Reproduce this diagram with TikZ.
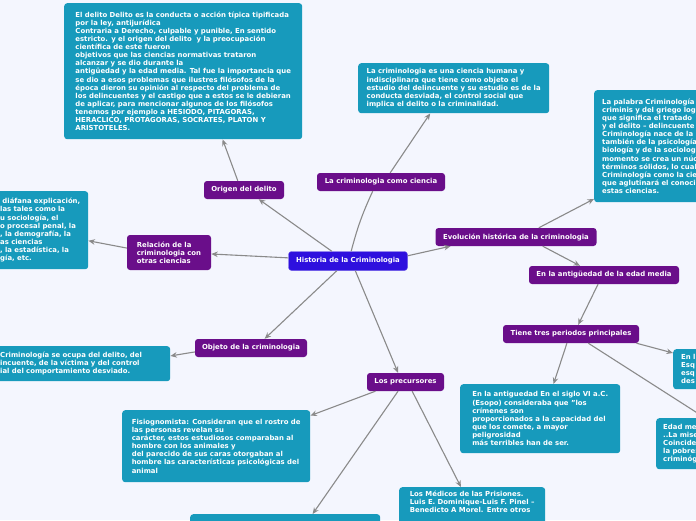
\documentclass[tikz,border=0pt]{standalone}
\usepackage{fontspec}
\setmainfont{DejaVu Sans}
\usetikzlibrary{arrows.meta}

\definecolor{bg}{RGB}{244,246,254}
\definecolor{tealbox}{RGB}{23,154,188}
\definecolor{purplebox}{RGB}{106,14,138}
\definecolor{rootbox}{RGB}{46,16,222}
\definecolor{connector}{RGB}{138,138,138}

\begin{document}
\begin{tikzpicture}[x=1pt,y=-1pt,
  every node/.style={font=\bfseries\fontsize{6.9}{8.1}\selectfont,text=white,rounded corners=3pt},
  topic/.style={fill=purplebox,minimum height=18pt,inner xsep=7pt,inner ysep=2pt},
  note/.style={fill=tealbox,align=left,inner xsep=8pt,inner ysep=4pt,anchor=north west},
  line/.style={draw=connector,line width=1.1pt},
  link/.style={line,-{Stealth[length=6.5pt,width=5.5pt]}}]

\useasboundingbox (0,0) rectangle (696,520);
\fill[bg] (0,0) rectangle (696,520);

\node[topic,fill=rootbox,draw=rootbox!70!white,minimum width=119pt,minimum height=19pt] (historia) at (348,261) {Historia de la Criminologia};

\node[topic,minimum width=80pt] (origen) at (244,190) {Origen del delito};
\node[topic,minimum width=128pt] (ciencia) at (381,182) {La criminologia como ciencia};
\node[topic,minimum width=161pt] (evolucion) at (516,237) {Evolución histórica de la criminologia};
\node[topic,minimum width=150pt] (edadmedia) at (604,275) {En la antigüedad de la edad media};
\node[topic,minimum width=136pt] (periodos) at (571,334) {Tiene tres periodos principales};
\node[topic,align=left,minimum width=84pt,minimum height=35pt] (relacion) at (169,252.5) {Relación de la\\criminologia con\\otras ciencias};
\node[topic,minimum width=112pt] (objeto) at (251,348) {Objeto de la criminologia};
\node[topic,minimum width=77pt] (precursores) at (405.5,382) {Los precursores};

\node[note,minimum width=238pt,minimum height=136pt] (delito) at (64,3) {El delito Delito es la conducta o acción típica tipificada\\por la ley, antijurídica\\Contraria a Derecho, culpable y punible, En sentido\\estricto. y el origen del delito\ \ y la preocupación\\científica de este fueron\\objetivos que las ciencias normativas trataron\\alcanzar y se dio durante la\\antigüedad y la edad media. Tal fue la importancia que\\se dio a esos problemas que ilustres filósofos de la\\época dieron su opinión al respecto del problema de\\los delincuentes y el castigo que a estos se le debieran\\de aplicar, para mencionar algunos de los filósofos\\tenemos por ejemplo a HESIODO, PITAGORAS,\\HERACLICO, PROTAGORAS, SOCRATES, PLATON Y\\ARISTOTELES.};
\node[note,minimum width=191pt,minimum height=50pt] (definicion) at (358,63) {La criminologia es una ciencia humana y\\indisciplinara que tiene como objeto el\\estudio del delincuente y su estudio es de la\\conducta desviada, el control social que\\implica el delito o la criminalidad.};
\node[note,text width=140pt,minimum height=112pt] (palabra) at (594,90) {La palabra Criminología\\criminis y del griego log\\que significa el tratado\\y el delito -- delincuente\\Criminología nace de la\\también de la psicología\\biología y de la sociolog\\momento se crea un núc\\términos sólidos, lo cual\\Criminología como la cie\\que aglutinará el conoci\\estas ciencias.};
\node[note,inner xsep=3pt,text width=85pt,minimum height=78pt] (ciencias) at (-3,191) {\ diáfana explicación,\\las tales como la\\u sociología, el\\o procesal penal, la\\, la demografía, la\\as ciencias\\, la estadística, la\\gía, etc.};
\node[note,inner xsep=7pt,text width=163pt,minimum height=35pt] (objetivo) at (-7,346) {Criminología se ocupa del delito, del\\incuente, de la víctima y del control\\ial del comportamiento desviado.};
\node[note,minimum width=188pt,minimum height=72pt] (fisiognomista) at (122,410) {Fisiognomista: Consideran que el rostro de\\las personas revelan su\\carácter, estos estudiosos comparaban al\\hombre con los animales y\\del parecido de sus caras otorgaban al\\hombre las características psicológicas del\\animal};
\node[note,minimum width=146pt] (medicos) at (399,487) {Los Médicos de las Prisiones.\\Luis E. Dominique-Luis F. Pinel --\\Benedicto A Morel. Entre otros\\\strut};
\node[note,minimum width=190pt,minimum height=30pt] (escuela) at (190,514) {};
\node[note,minimum width=160pt,minimum height=69pt] (antiguedad) at (460,384) {En la antiguedad En el siglo VI a.C.\\(Esopo) consideraba que "los\\crímenes son\\proporcionados a la capacidad del\\que los comete, a mayor\\peligrosidad\\más terribles han de ser.};
\node[note,text width=60pt,minimum height=40pt] (esquirol) at (673,349) {En l\\Esq\\esq\\des};
\node[note,inner xsep=7pt,text width=84pt,minimum height=51pt] (edad) at (656,418) {Edad me\\..La mise\\Coincide\\la pobre:\\criminóg};

\draw[link] (historia.149) -- (origen.-32);
\draw[link] (origen.124) -- (delito.-60);
\draw[line] (historia.72) to[bend left=5] (ciencia.-132);
\draw[link] (ciencia.45) -- (definicion.-133);
\draw[link] (historia.5) -- (evolucion.-172.7);
\draw[link] (evolucion.22) -- (palabra.-146.5);
\draw[link] (evolucion.-19) -- (edadmedia.159.4);
\draw[link] (edadmedia.-123.7) -- (periodos.52);
\draw[link] (periodos.-114) -- (antiguedad.69.4);
\draw[link] (periodos.-8.7) -- (esquirol.157);
\draw[link] (periodos.-28) -- (edad.north);
\draw[link] (historia.177) -- (relacion.-2);
\draw[link] (relacion.174) -- (ciencias.-13.6);
\draw[link] (historia.-139) -- (objeto.34.7);
\draw[link] (objeto.184) -- (objetivo.5.5);
\draw[link] (historia.-53.6) -- (precursores.129.8);
\draw[link] (precursores.-163) -- (fisiognomista.18.8);
\draw[link] (precursores.-129.8) -- (escuela.29.1);
\draw[link] (precursores.-54.2) -- (medicos.119);
%\draw[link] (historia) -- (escuela);
\end{tikzpicture}
\end{document}
